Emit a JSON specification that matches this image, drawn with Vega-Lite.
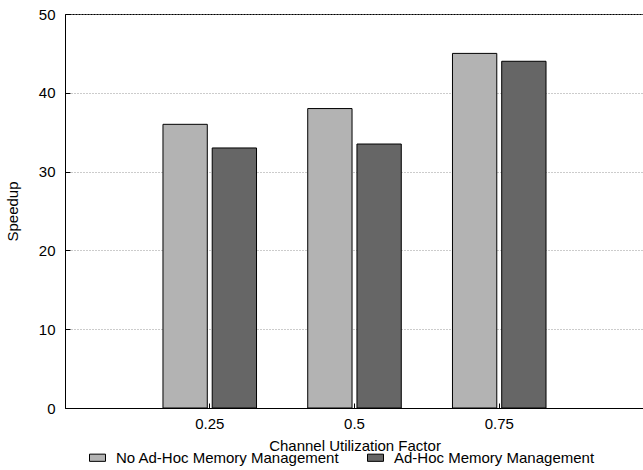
{
  "$schema": "https://vega.github.io/schema/vega-lite/v6.json",
  "autosize": "none",
  "padding": {"left": 65, "top": 14, "right": 0, "bottom": 62},
  "width": 579,
  "height": 394,
  "background": "white",
  "config": {
    "font": "Liberation Sans",
    "view": {"stroke": "black", "strokeWidth": 1},
    "axis": {
      "labelFont": "Liberation Sans",
      "titleFont": "Liberation Sans",
      "labelFontSize": 15,
      "titleFontSize": 15,
      "titleFontWeight": "normal",
      "labelColor": "black",
      "titleColor": "black",
      "domainColor": "black",
      "tickColor": "black"
    }
  },
  "data": {
    "values": [
      {"factor": "0.25", "series": "No Ad-Hoc Memory Management", "speedup": 36},
      {"factor": "0.25", "series": "Ad-Hoc Memory Management", "speedup": 33},
      {"factor": "0.5", "series": "No Ad-Hoc Memory Management", "speedup": 38},
      {"factor": "0.5", "series": "Ad-Hoc Memory Management", "speedup": 33.5},
      {"factor": "0.75", "series": "No Ad-Hoc Memory Management", "speedup": 45},
      {"factor": "0.75", "series": "Ad-Hoc Memory Management", "speedup": 44}
    ]
  },
  "mark": {"type": "bar", "stroke": "black", "strokeWidth": 1},
  "encoding": {
    "x": {
      "field": "factor",
      "type": "ordinal",
      "sort": ["0.25", "0.5", "0.75"],
      "scale": {"paddingInner": 0, "paddingOuter": 0.5},
      "axis": {
        "title": "Channel Utilization Factor",
        "labelAngle": 0,
        "tickSize": -5,
        "labelPadding": 13,
        "titlePadding": 7,
        "grid": false,
        "domainWidth": 1
      }
    },
    "xOffset": {
      "field": "series",
      "type": "nominal",
      "sort": ["No Ad-Hoc Memory Management", "Ad-Hoc Memory Management"],
      "scale": {"paddingInner": 0.1, "paddingOuter": 0.52}
    },
    "y": {
      "field": "speedup",
      "type": "quantitative",
      "scale": {"domain": [0, 50], "nice": false},
      "axis": {
        "title": "Speedup",
        "values": [0, 10, 20, 30, 40, 50],
        "tickSize": -5,
        "labelPadding": 15,
        "titlePadding": 18,
        "grid": true,
        "gridColor": "#999999",
        "gridDash": [1, 2],
        "gridWidth": 1,
        "gridOpacity": 1
      }
    },
    "color": {
      "field": "series",
      "type": "nominal",
      "sort": ["No Ad-Hoc Memory Management", "Ad-Hoc Memory Management"],
      "scale": {
        "domain": ["No Ad-Hoc Memory Management", "Ad-Hoc Memory Management"],
        "range": ["#b3b3b3", "#666666"]
      },
      "legend": {
        "title": null,
        "orient": "none",
        "legendX": 24,
        "legendY": 435,
        "direction": "horizontal",
        "padding": 0,
        "symbolType": "M-1,-0.45H1V0.45H-1Z",
        "symbolSize": 256,
        "symbolStrokeColor": "black",
        "symbolStrokeWidth": 1,
        "labelFont": "Liberation Sans",
        "labelFontSize": 15,
        "labelColor": "black",
        "labelLimit": 400,
        "labelOffset": 10,
        "columnPadding": 25
      }
    }
  }
}
